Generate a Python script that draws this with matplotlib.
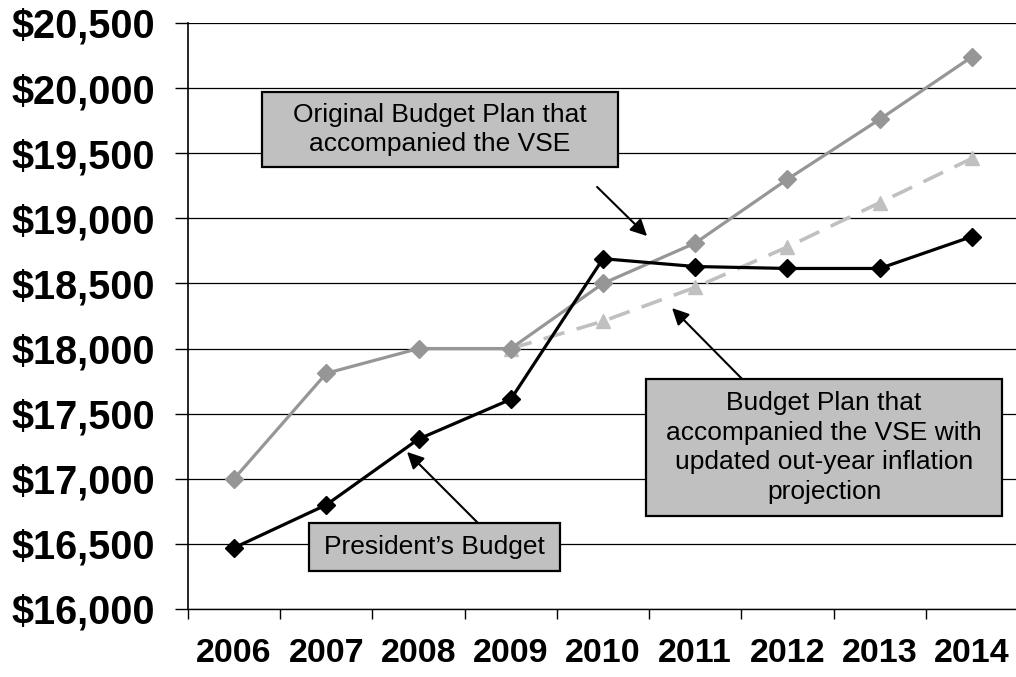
import matplotlib
matplotlib.use("Agg")
import matplotlib.pyplot as plt
from matplotlib.patches import Rectangle
from matplotlib.ticker import FuncFormatter

years = ["2006", "2007", "2008", "2009", "2010", "2011", "2012", "2013", "2014"]
original_plan = [17000, 17810, 18000, 18000, 18500, 18810, 19300, 19760, 20240]
presidents_budget = [16470, 16800, 17305, 17610, 18690, 18630, 18615, 18615, 18860]
# updated inflation plan starts at 2009
updated_years = years[3:]
updated_plan = [18000, 18210, 18470, 18780, 19120, 19460]

plt.rcParams['font.family'] = ['Liberation Sans', 'DejaVu Sans']

fig = plt.figure(figsize=(10.16, 6.77), dpi=100)
ax = fig.add_axes([188 / 1016, 68 / 677, 830 / 1016, 586 / 677])

x = list(range(len(years)))
x_upd = [years.index(y) for y in updated_years]

ax.plot(x, original_plan, color='#969696', lw=2.3, marker='D', ms=9.5,
        zorder=3)
ax.plot(x_upd, updated_plan, color='#c0c0c0', lw=2.6, ls=(0, (6, 3.5)),
        marker='^', ms=10, zorder=2)
ax.plot(x, presidents_budget, color='black', lw=2.3, marker='D', ms=9.5,
        zorder=4)

ax.set_xlim(-0.5, len(years) - 0.5)
ax.set_ylim(16000, 20500)
ax.set_yticks(range(16000, 20501, 500))
ax.yaxis.set_major_formatter(FuncFormatter(lambda v, p: f"${v:,.0f}"))
ax.yaxis.grid(True, color='black', lw=0.9)
ax.set_axisbelow(True)

ax.set_xticks([i - 0.5 for i in range(len(years) + 1)])
ax.set_xticklabels([])
ax.set_xticks(x, minor=True)
ax.set_xticklabels(years, minor=True)
ax.tick_params(axis='x', which='major', length=7, width=1, direction='out')
ax.tick_params(axis='x', which='minor', length=0, pad=21, labelsize=24.5)
ax.tick_params(axis='y', length=9.5, width=1, direction='out', pad=14,
               labelsize=28.5)
for lab in ax.get_xticklabels(minor=True) + ax.get_yticklabels():
    lab.set_fontweight('bold')

for s in ['top', 'right']:
    ax.spines[s].set_visible(False)
ax.spines['left'].set_linewidth(1.2)
ax.spines['bottom'].set_linewidth(1)

# annotation boxes (x0, x1, y0, y1 in data coords)
boxes = [
    ((0.303, 4.164, 19394, 19970),
     "Original Budget Plan that\naccompanied the VSE"),
    ((4.467, 8.329, 16714, 17766),
     "Budget Plan that\naccompanied the VSE with\nupdated out-year inflation\nprojection"),
    ((0.812, 3.535, 16292, 16660), "President\u2019s Budget"),
]
for (x0, x1, y0, y1), txt in boxes:
    ax.add_patch(Rectangle((x0, y0), x1 - x0, y1 - y0, facecolor='#c0c0c0',
                           edgecolor='black', lw=1.6, zorder=6))
    ax.text((x0 + x1) / 2, (y0 + y1) / 2, txt, ha='center', va='center',
            fontsize=19, linespacing=1.3, zorder=7)

arrows = [
    ((3.936, 19241), (4.478, 18864)),
    ((5.509, 17766), (4.749, 18311)),
    ((2.645, 16660), (1.875, 17206)),
]
for start, tip in arrows:
    ax.annotate('', xy=tip, xytext=start,
                arrowprops=dict(arrowstyle='-|>', color='black', lw=1.5,
                                mutation_scale=25, shrinkA=0, shrinkB=0),
                zorder=8)

fig.savefig('out.png', dpi=100)
